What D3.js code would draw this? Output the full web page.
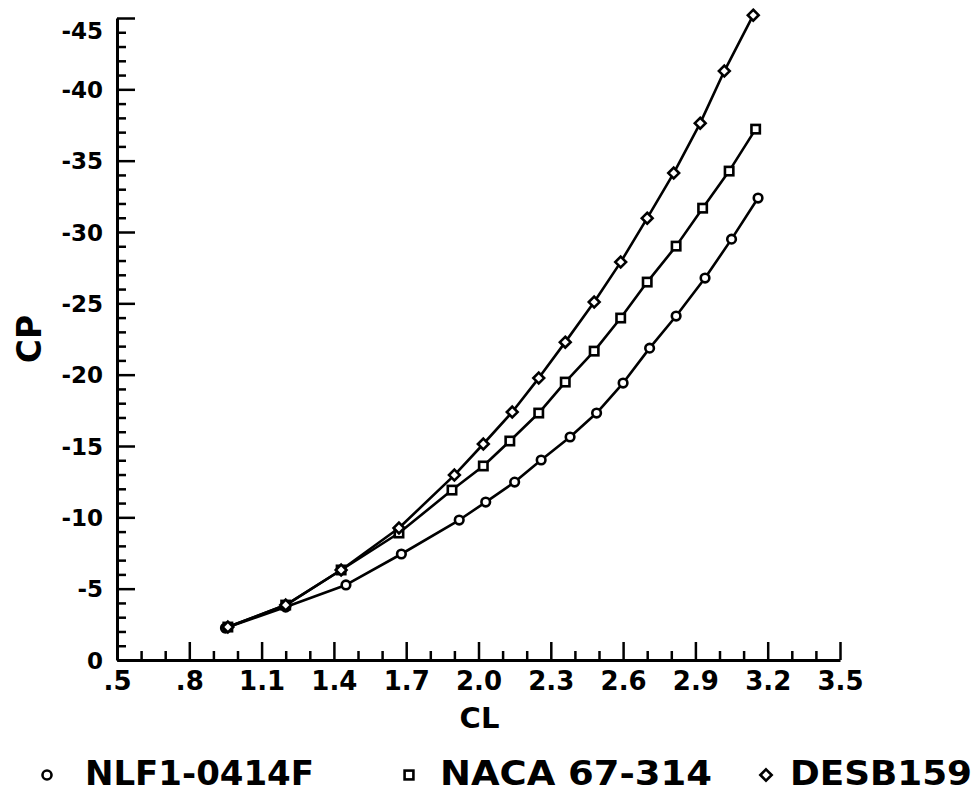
<!DOCTYPE html>
<html>
<head>
<meta charset="utf-8">
<script src="https://cdn.jsdelivr.net/npm/d3@7"></script>
<style>
  html, body { margin: 0; padding: 0; background: #fff; }
  svg { display: block; }
  .tick text { font-family: "DejaVu Sans", sans-serif; font-weight: bold; fill: #000; }
</style>
</head>
<body>
<svg id="chart" width="978" height="793"></svg>
<script>
// Lift coefficient (CL) vs peak pressure coefficient (CP) for three airfoils
const seriesNames = ["NLF1-0414F", "NACA 67-314", "DESB159"];
const seriesSymbols = ["circle", "square", "diamond"];

const clNLF = [0.95, 1.20, 1.45, 1.68, 1.92, 2.03, 2.15, 2.26, 2.38, 2.49, 2.60, 2.71, 2.82, 2.94, 3.05, 3.16];
const cpNLF = [-2.24, -3.71, -5.26, -7.43, -9.81, -11.07, -12.47, -14.02, -15.63, -17.31, -19.41, -21.86, -24.11, -26.77, -29.50, -32.38];

const clNACA = [0.96, 1.20, 1.43, 1.67, 1.89, 2.02, 2.13, 2.25, 2.36, 2.48, 2.59, 2.70, 2.82, 2.93, 3.04, 3.15];
const cpNACA = [-2.31, -3.85, -6.31, -8.90, -11.91, -13.60, -15.35, -17.31, -19.48, -21.65, -23.97, -26.49, -29.01, -31.67, -34.27, -37.21];

const clDESB = [0.96, 1.20, 1.43, 1.67, 1.90, 2.02, 2.14, 2.25, 2.36, 2.48, 2.59, 2.70, 2.81, 2.92, 3.02, 3.14];
const cpDESB = [-2.31, -3.85, -6.31, -9.25, -12.96, -15.14, -17.38, -19.76, -22.28, -25.09, -27.89, -30.97, -34.13, -37.63, -41.28, -45.20];

const xTickValues = [0.5, 0.8, 1.1, 1.4, 1.7, 2.0, 2.3, 2.6, 2.9, 3.2, 3.5];
const xTickLabels = [".5", ".8", "1.1", "1.4", "1.7", "2.0", "2.3", "2.6", "2.9", "3.2", "3.5"];
const yTickValues = [0, -5, -10, -15, -20, -25, -30, -35, -40, -45];
const yTickLabels = ["0", "-5", "-10", "-15", "-20", "-25", "-30", "-35", "-40", "-45"];

const series = [
  { name: seriesNames[0], symbol: seriesSymbols[0], cl: clNLF, cp: cpNLF },
  { name: seriesNames[1], symbol: seriesSymbols[1], cl: clNACA, cp: cpNACA },
  { name: seriesNames[2], symbol: seriesSymbols[2], cl: clDESB, cp: cpDESB }
];

const svg = d3.select("#chart");
const x0 = 117, x1 = 840, yBottom = 660, yTop = 18;

const x = d3.scaleLinear().domain([0.5, 3.5]).range([x0, x1]);
const y = d3.scaleLinear().domain([0, -45]).range([yBottom, yTop]);

// minor ticks
const xMinor = d3.range(6, 35).map(v => v / 10).filter(v => !xTickValues.some(t => Math.abs(t - v) < 1e-6));
const yMinor = d3.range(0, -46, -1).filter(v => v % 5 !== 0);

svg.append("g")
  .attr("transform", `translate(0,${yBottom})`)
  .call(d3.axisBottom(x).tickValues(xMinor).tickFormat("").tickSizeInner(-9).tickSizeOuter(0))
  .call(g => g.select(".domain").remove())
  .call(g => g.selectAll("line").attr("stroke", "#000").attr("stroke-width", 2.5));

svg.append("g")
  .attr("transform", `translate(${x0},0)`)
  .call(d3.axisLeft(y).tickValues(yMinor).tickFormat("").tickSizeInner(-9).tickSizeOuter(0))
  .call(g => g.select(".domain").remove())
  .call(g => g.selectAll("line").attr("stroke", "#000").attr("stroke-width", 2.5));

// major ticks and labels
const xAxis = svg.append("g")
  .attr("transform", `translate(0,${yBottom})`)
  .call(d3.axisBottom(x).tickValues(xTickValues)
    .tickFormat((d, i) => xTickLabels[i]).tickSizeInner(-18).tickSizeOuter(0).tickPadding(12));
xAxis.select(".domain").attr("stroke", "#000").attr("stroke-width", 3);
xAxis.selectAll("line").attr("stroke", "#000").attr("stroke-width", 2.5);
xAxis.selectAll("text").attr("font-size", 26).attr("font-family", "'DejaVu Sans Condensed', 'DejaVu Sans', sans-serif");

const yAxis = svg.append("g")
  .attr("transform", `translate(${x0},0)`)
  .call(d3.axisLeft(y).tickValues(yTickValues)
    .tickFormat((d, i) => yTickLabels[i]).tickSizeInner(-18).tickSizeOuter(0).tickPadding(14));
yAxis.select(".domain").attr("stroke", "#000").attr("stroke-width", 3);
yAxis.selectAll("line").attr("stroke", "#000").attr("stroke-width", 2.5);
yAxis.selectAll("text").attr("font-size", 23)
  .attr("dy", d => (y(d) < 30 ? (30 - y(d)) + 8 : 8) + "px")
  .attr("dominant-baseline", "auto");

// axis titles
svg.append("text")
  .attr("x", (x(1.7) + x(2.3)) / 2 + 1).attr("y", 728)
  .attr("text-anchor", "middle")
  .attr("font-family", "DejaVu Sans, sans-serif").attr("font-weight", "bold")
  .attr("font-size", 29)
  .text("CL");

svg.append("text")
  .attr("transform", `translate(41,${y(-22.5)}) rotate(-90)`)
  .attr("text-anchor", "middle")
  .attr("font-family", "DejaVu Sans, sans-serif").attr("font-weight", "bold")
  .attr("font-size", 33)
  .text("CP");

// marker shapes
function drawMarker(g, symbol, cx, cy, s) {
  if (symbol === "circle") {
    g.append("circle").attr("cx", cx).attr("cy", cy).attr("r", 4.3 * s);
  } else if (symbol === "square") {
    const h = 4.2 * s;
    g.append("rect").attr("x", cx - h).attr("y", cy - h).attr("width", 2 * h).attr("height", 2 * h);
  } else {
    const h = 5.4 * s;
    g.append("path").attr("d", `M${cx},${cy - h}L${cx + h},${cy}L${cx},${cy + h}L${cx - h},${cy}Z`);
  }
}

const line = d3.line().x(d => x(d[0])).y(d => y(d[1]));

const plot = svg.append("g");
series.forEach(s => {
  const pts = s.cl.map((c, i) => [c, s.cp[i]]);
  plot.append("path")
    .datum(pts)
    .attr("d", line)
    .attr("fill", "none")
    .attr("stroke", "#000")
    .attr("stroke-width", 2.6)
    .attr("stroke-linejoin", "round");
});
series.forEach(s => {
  const g = plot.append("g").attr("fill", "#fff").attr("stroke", "#000").attr("stroke-width", 2.6);
  s.cl.forEach((c, i) => drawMarker(g, s.symbol, x(c), y(s.cp[i]), 1));
});

// legend
const legendItems = [
  { mx: 47, tx: 85, len: 229 },
  { mx: 409, tx: 440, len: 272 },
  { mx: 766, tx: 790, len: 182 }
];
series.forEach((s, i) => {
  const li = legendItems[i];
  const g = svg.append("g").attr("fill", "#fff").attr("stroke", "#000").attr("stroke-width", 2.6);
  drawMarker(g, s.symbol, li.mx, 775, 1.05);
  svg.append("text")
    .attr("x", li.tx).attr("y", 785)
    .attr("font-family", "'DejaVu Sans Condensed', 'DejaVu Sans', sans-serif")
    .attr("font-weight", "bold")
    .attr("font-size", 33)
    .attr("textLength", li.len)
    .attr("lengthAdjust", "spacingAndGlyphs")
    .text(s.name);
});
</script>
</body>
</html>
